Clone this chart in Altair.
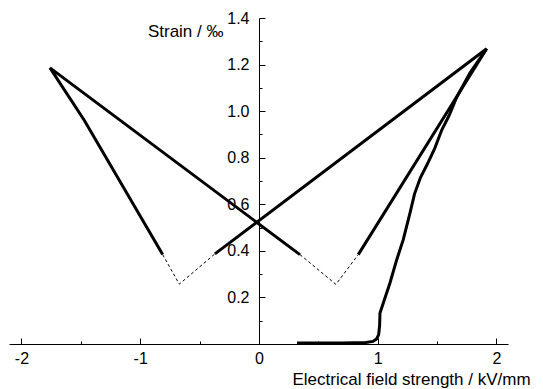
import altair as alt
import pandas as pd

# ---- data ----
loop_left_x = [-0.811, -1.47, -1.76, 0.345]
loop_left_y = [0.384, 0.96, 1.186, 0.384]
loop_right_x = [-0.371, 1.917, 0.836]
loop_right_y = [0.387, 1.268, 0.384]
dash_left_x = [-0.811, -0.671, -0.371]
dash_left_y = [0.384, 0.257, 0.387]
dash_right_x = [0.345, 0.648, 0.836]
dash_right_y = [0.384, 0.256, 0.384]
initial_x = [0.32, 0.70, 0.90, 0.96, 0.99, 1.008, 1.016, 1.019, 1.047, 1.103,
             1.16, 1.215, 1.272, 1.31, 1.36, 1.42, 1.48, 1.54, 1.60, 1.665,
             1.777, 1.917]
initial_y = [0.004, 0.004, 0.006, 0.011, 0.022, 0.04, 0.08, 0.133, 0.176, 0.262,
             0.362, 0.448, 0.563, 0.645, 0.715, 0.775, 0.84, 0.92, 0.98, 1.06,
             1.165, 1.268]

x_major = [-2, -1, 0, 1, 2]
x_minor = [-1.5, -0.5, 0.5, 1.5]
y_major = [0.2, 0.4, 0.6, 0.8, 1.0, 1.2, 1.4]
y_minor = [0.1, 0.3, 0.5, 0.7, 0.9, 1.1, 1.3]


def seg(name, xs, ys):
    return pd.DataFrame({"seg": name, "i": range(len(xs)), "x": xs, "y": ys})


solid_df = pd.concat([
    seg("left", loop_left_x, loop_left_y),
    seg("right", loop_right_x, loop_right_y),
    seg("initial", initial_x, initial_y),
])
dash_df = pd.concat([
    seg("dl", dash_left_x, dash_left_y),
    seg("dr", dash_right_x, dash_right_y),
])

W, H = 499, 326
X0 = 250  # pixel of x = 0 inside plot

xscale = alt.Scale(domain=[-2.105, 2.097], nice=False, zero=False)
yscale = alt.Scale(domain=[0, 1.4], nice=False, zero=False)

FONT = "Liberation Sans"

x_major_axis = alt.Axis(
    orient="top", offset=-H, values=x_major, grid=False,
    tickSize=6, tickColor="black", tickWidth=1,
    domain=True, domainColor="black", domainWidth=1,
    labelExpr="toString(datum.value)", labelBaseline="top", labelPadding=-12,
    labelFont=FONT, labelFontSize=16, labelColor="black", labelFlush=False,
    title="Electrical field strength / kV/mm", titleX=283, titleY=40,
    titleAlign="left", titleBaseline="alphabetic", titleFont=FONT,
    titleFontSize=17, titleFontWeight="normal", titleColor="black",
)
y_major_axis = alt.Axis(
    orient="right", offset=-(W - X0), values=y_major, grid=False,
    tickSize=6, tickColor="black", tickWidth=1,
    domain=True, domainColor="black", domainWidth=1,
    format=".1f", labelAlign="right", labelBaseline="middle", labelPadding=-16,
    labelFont=FONT, labelFontSize=16, labelColor="black", labelFlush=False,
    title="Strain / ‰", titleAngle=0, titleX=-36, titleY=13,
    titleAlign="right", titleBaseline="middle", titleFont=FONT,
    titleFontSize=17, titleFontWeight="normal", titleColor="black",
)
x_minor_axis = alt.Axis(
    orient="top", offset=-H, values=x_minor, grid=False, domain=False,
    labels=False, tickSize=3, tickColor="black", tickWidth=1, title=None,
)
y_minor_axis = alt.Axis(
    orient="right", offset=-(W - X0), values=y_minor, grid=False, domain=False,
    labels=False, tickSize=3, tickColor="black", tickWidth=1, title=None,
)

solid = alt.Chart(solid_df).mark_line(
    color="black", strokeWidth=3, strokeJoin="miter"
).encode(
    x=alt.X("x:Q", scale=xscale, axis=x_major_axis),
    y=alt.Y("y:Q", scale=yscale, axis=y_major_axis),
    detail="seg:N",
    order="i:Q",
)

dashed = alt.Chart(dash_df).mark_line(
    color="black", strokeWidth=1, strokeDash=[3, 2.5]
).encode(
    x=alt.X("x:Q", scale=xscale, axis=x_minor_axis),
    y=alt.Y("y:Q", scale=yscale, axis=y_minor_axis),
    detail="seg:N",
    order="i:Q",
)

chart = alt.layer(solid, dashed).resolve_axis(
    x="independent", y="independent"
).properties(
    width=W, height=H,
    autosize=alt.AutoSizeParams(type="none"),
    padding={"left": 1, "top": 10, "right": 27, "bottom": 45},
    background="white",
).configure_view(stroke=None)

chart.save("out.html", embed_options={"renderer": "svg", "actions": False})
